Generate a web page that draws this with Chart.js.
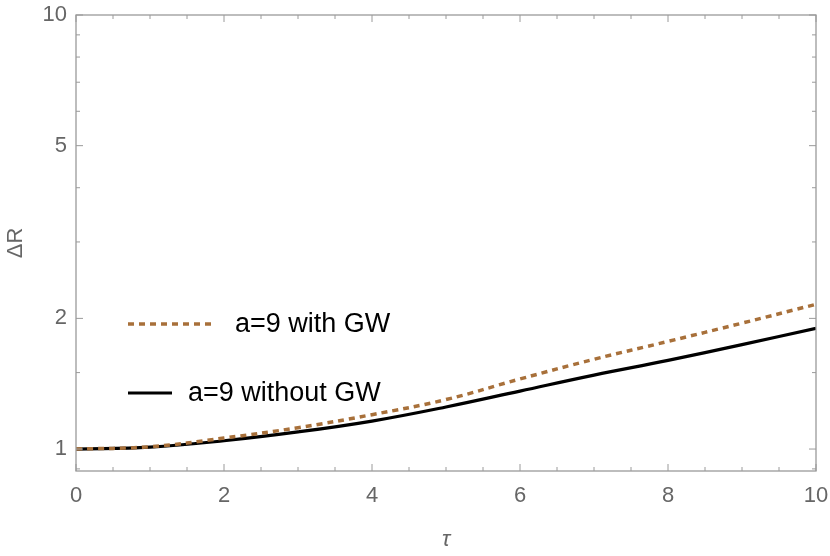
<!DOCTYPE html>
<html>
<head>
<meta charset="utf-8">
<script src="https://cdn.jsdelivr.net/npm/chart.js@4.4.1/dist/chart.umd.min.js"></script>
<style>
  html, body { margin: 0; padding: 0; background: #fff; }
  #wrap { width: 830px; height: 556px; }
</style>
</head>
<body>
<div id="wrap"><canvas id="chart"></canvas></div>
<script>
// 数据
const tau = [0, 1, 2, 3, 4, 5, 6, 7, 8, 9, 10];
const withGW = [1.0, 1.012, 1.06, 1.12, 1.2, 1.3, 1.45, 1.61, 1.77, 1.95, 2.155];
const withoutGW = [1.0, 1.01, 1.045, 1.095, 1.16, 1.25, 1.36, 1.48, 1.6, 1.74, 1.897];

const seriesNames = ['a=9 with GW', 'a=9 without GW'];
const yTickValues = [1, 2, 5, 10];
const yMinorTicks = [0.9, 1.5, 3, 4, 6, 7, 8, 9];
const xMajorTicks = [0, 2, 4, 6, 8, 10];
const xMinorTicks = [0.5, 1, 1.5, 2.5, 3, 3.5, 4.5, 5, 5.5, 6.5, 7, 7.5, 8.5, 9, 9.5];

const FONT = '"Liberation Sans", Arial, sans-serif';
const AXIS_GREY = '#9a9a9a';
const LABEL_GREY = '#666666';

// 画框和朝内的刻度
const framePlugin = {
  id: 'frame',
  afterDraw(chart) {
    const { ctx, chartArea: a, scales } = chart;
    const x = scales.x, y = scales.y;
    ctx.save();
    ctx.strokeStyle = AXIS_GREY;
    ctx.lineWidth = 1.3;
    ctx.strokeRect(a.left, a.top, a.right - a.left, a.bottom - a.top);
    ctx.lineWidth = 1;
    const tickX = (v, len) => {
      const px = x.getPixelForValue(v);
      ctx.beginPath();
      ctx.moveTo(px, a.bottom); ctx.lineTo(px, a.bottom - len);
      ctx.moveTo(px, a.top); ctx.lineTo(px, a.top + len);
      ctx.stroke();
    };
    const tickY = (v, len) => {
      const py = y.getPixelForValue(v);
      ctx.beginPath();
      ctx.moveTo(a.left, py); ctx.lineTo(a.left + len, py);
      ctx.moveTo(a.right, py); ctx.lineTo(a.right - len, py);
      ctx.stroke();
    };
    xMajorTicks.forEach(v => tickX(v, 7));
    xMinorTicks.forEach(v => tickX(v, 4));
    yTickValues.forEach(v => tickY(v, 7));
    yMinorTicks.forEach(v => tickY(v, 4));
    ctx.restore();
  }
};

// 图内的图例
const legendPlugin = {
  id: 'innerLegend',
  afterDatasetsDraw(chart) {
    const { ctx } = chart;
    const rows = [
      { ds: chart.data.datasets[0], y: 324, x0: 128, x1: 214, tx: 235 },
      { ds: chart.data.datasets[1], y: 393, x0: 128, x1: 172, tx: 188 }
    ];
    ctx.save();
    rows.forEach(r => {
      ctx.strokeStyle = r.ds.borderColor;
      ctx.lineWidth = r.ds.borderWidth;
      ctx.setLineDash(r.ds.borderDash || []);
      ctx.beginPath();
      ctx.moveTo(r.x0, r.y); ctx.lineTo(r.x1, r.y);
      ctx.stroke();
      ctx.setLineDash([]);
      ctx.fillStyle = '#000';
      ctx.font = '27px ' + FONT;
      ctx.textBaseline = 'middle';
      ctx.textAlign = 'left';
      ctx.fillText(r.ds.label, r.tx, r.y + 1);
    });
    ctx.restore();
  }
};

new Chart(document.getElementById('chart'), {
  type: 'line',
  data: {
    labels: tau,
    datasets: [
      {
        label: seriesNames[0],
        data: tau.map((t, i) => ({ x: t, y: withGW[i] })),
        borderColor: '#a8703a',
        borderWidth: 3.5,
        borderDash: [6, 5],
        pointRadius: 0,
        tension: 0.4,
        fill: false
      },
      {
        label: seriesNames[1],
        data: tau.map((t, i) => ({ x: t, y: withoutGW[i] })),
        borderColor: '#000000',
        borderWidth: 3.2,
        pointRadius: 0,
        tension: 0.4,
        fill: false
      }
    ]
  },
  options: {
    responsive: true,
    maintainAspectRatio: false,
    animation: false,
    layout: { padding: { top: 15, right: 14, left: 0, bottom: 0 } },
    plugins: { legend: { display: false }, tooltip: { enabled: false } },
    scales: {
      x: {
        type: 'linear',
        min: 0,
        max: 10,
        grid: { display: false, drawTicks: false },
        border: { display: false },
        ticks: {
          stepSize: 2,
          padding: 12,
          color: LABEL_GREY,
          font: { family: FONT, size: 22 }
        },
        title: {
          display: true,
          text: 'τ',
          color: LABEL_GREY,
          padding: { top: 4, bottom: 3 },
          font: { family: FONT, size: 22, style: 'italic' }
        },
        afterFit(scale) {
          scale.height = 85;
          scale.paddingLeft = 0;
          scale.paddingRight = 0;
        }
      },
      y: {
        type: 'logarithmic',
        min: 0.89,
        max: 10,
        grid: { display: false, drawTicks: false },
        border: { display: false },
        afterBuildTicks(scale) { scale.ticks = yTickValues.map(v => ({ value: v })); },
        ticks: {
          padding: 9,
          color: LABEL_GREY,
          font: { family: FONT, size: 22 },
          callback: v => String(v)
        },
        title: {
          display: true,
          text: 'ΔR',
          color: LABEL_GREY,
          padding: { top: 3, bottom: 3 },
          font: { family: FONT, size: 22 }
        },
        afterFit(scale) {
          scale.width = 76;
          scale.paddingTop = 0;
          scale.paddingBottom = 0;
        }
      }
    }
  },
  plugins: [framePlugin, legendPlugin]
});
</script>
</body>
</html>
